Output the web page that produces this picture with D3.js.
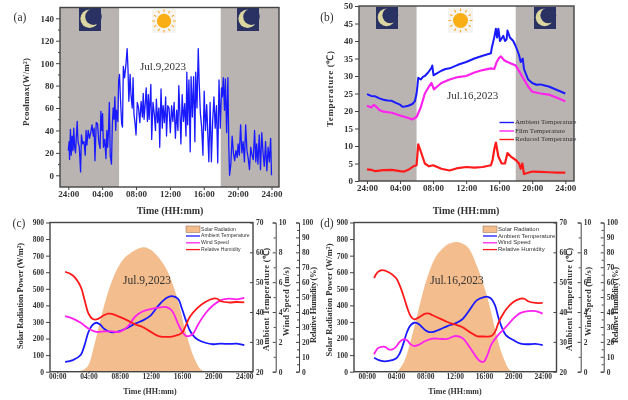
<!DOCTYPE html>
<html>
<head>
<meta charset="utf-8">
<script src="https://cdn.jsdelivr.net/npm/d3@7"></script>
<style>
  html, body { margin: 0; padding: 0; background: #fff; }
  svg { display: block; filter: blur(0.6px); }
  text { font-family: "Liberation Serif", serif; fill: #333; }
  .tick text { font-weight: bold; }
  .lab { font-weight: bold; }
</style>
</head>
<body>
<script>
WIDTH = 628;
HEIGHT = 400;

// panel (a): cooling power
var coolHours = [0,.1,.15,.25,.35,.45,.55,.65,.75,.85,1.05,1.15,1.3,1.45,1.55,1.7,1.85,2,2.1,2.2,2.35,2.5,2.65,2.8,2.95,3.05,3.15,3.3,3.45,3.6,3.75,3.85,3.95,4.05,4.15,4.3,4.45,4.55,4.65,4.75,4.85,4.95,5.1,5.2,5.3,5.4,5.5,5.6,5.7,5.85,5.95,6.05,6.15,6.3,6.4,6.5,6.65,6.8,6.95,7.05,7.15,7.3,7.4,7.55,7.65,7.75,7.9,8,8.15,8.3,8.45,8.6,8.75,8.85,8.95,9.1,9.2,9.35,9.45,9.55,9.75,9.85,10,10.15,10.3,10.4,10.55,10.7,10.8,10.95,11.1,11.2,11.35,11.5,11.6,11.75,11.9,12.05,12.2,12.35,12.5,12.65,12.8,12.95,13.05,13.2,13.3,13.45,13.6,13.75,13.9,14,14.1,14.25,14.4,14.5,14.65,14.8,14.95,15.05,15.2,15.35,15.45,15.6,15.75,15.9,16.05,16.2,16.35,16.5,16.6,16.75,16.9,17.05,17.2,17.35,17.5,17.65,17.8,17.95,18.1,18.2,18.3,18.45,18.55,18.7,18.85,18.95,19.05,19.2,19.35,19.5,19.65,19.8,19.95,20.05,20.2,20.35,20.5,20.65,20.8,20.95,21.1,21.25,21.4,21.55,21.7,21.85,22,22.15,22.25,22.4,22.55,22.7,22.85,23,23.15,23.3,23.45,23.6,23.75,23.9,24];
var coolValues = [22,30,14,41,18,35,22,42,25,20,48,30,25,3,36,28,30,18,40,27,40,33,38,45,35,42,13,47,46,30,24,57,40,55,25,32,15,40,25,40,65,18,10,45,60,50,70,40,58,48,85,90,70,46,43,97,87,98,113,95,66,90,72,60,87,55,45,36,65,60,47,66,52,73,50,65,78,48,72,50,81,32,65,55,40,68,47,60,25,77,42,62,47,70,35,62,60,38,62,48,65,33,58,40,80,52,28,72,48,64,35,92,45,85,21,88,52,88,30,92,60,113,85,55,43,18,75,40,63,32,12,65,12,48,70,42,62,11,85,42,78,70,87,58,86,38,87,28,0,10,35,20,13,22,16,28,18,45,20,30,12,45,22,15,5,25,18,14,40,12,28,10,36,5,38,20,8,30,4,25,12,33,0],

// panel (b): temperatures
    tempHoursAmb = [0,.5,1,1.5,2,2.5,3,3.5,4,4.3,4.6,5,5.5,5.8,6,6.1,6.2,6.5,6.8,7,7.4,7.8,7.9,8.05,8.5,9,9.5,10,11,12,13,14,15,15.1,15.4,15.6,15.75,15.9,16.1,16.5,16.7,16.9,17,17.3,17.7,18,18.4,18.6,18.85,19,19.5,20,20.5,21,21.5,22,23,24],
    tempAmbient = [24.8,24.3,24.2,23.6,23.2,23,22.9,22.3,21.8,21.2,21.3,21.5,22,22.8,25,27,29.5,29,29.8,30,31,32.3,33,30.2,30.8,31.5,32,32.2,33.2,34,35,35.8,36.5,38,41,43.5,41,43.5,40,41.5,40,40.5,43,41,40,38.5,36,34,35,32,29,28,27.5,27.6,27.3,27,26,25],
    tempHoursFilm = [0,.5,.8,1,1.5,2,3,4,5,5.5,6,6.5,7,7.5,7.8,8.1,8.5,9,10,11,12,13,14,15,15.4,15.7,16,16.2,16.6,17,18,18.5,19,19.5,20,21,22,23,24],
    tempFilm = [21.5,21,21.7,21.5,20.3,19.8,19.5,18.7,18,17.6,18.3,21,25,27,28,26.2,27,28,29,29.7,30,31,31.7,32.2,32,34,35.2,35.6,34.5,34,33,31,29,27,25.5,25,24.7,23.8,22.8],
    tempHoursRed = [0,.5,1,2,3,4,4.5,5,5.7,6,6.2,6.5,7,7.5,8,9,10,11,12,13,14,15,15.2,15.4,15.6,15.9,16.3,16.7,17,17.5,18,18.4,18.6,18.8,19,20,21,22,23,24],
    tempReduced = [3.3,3.2,2.8,3.1,3.2,2.8,2.7,3.2,4.3,4.5,10.5,8.5,5,4.2,4.5,3.5,3,3.7,4,3.8,4,4.5,6,9,11,7,5,5,8,6.8,6,5,3.5,5,2,2.7,2.6,2.5,2.4,2.4];

// panels (c) and (d): weather
var solarHoursC = [2.5,3,3.5,4,4.8,5.9,7.2,8.5,9.75,10.5,11.2,12,12.7,14,15.3,16.6,17.6,18.5,19.4],
    solarC = [0,5,15,40,170,380,570,680,727,745,750,735,705,620,460,220,80,10,0],
    solarHoursD = [4.2,5.1,6.2,7.1,8.2,9.5,10.9,11.7,12.4,13.7,15.1,16.5,17.6,18.5,19.4,19.9],
    solarD = [0,60,220,380,560,700,765,780,782,755,630,440,240,100,15,0];

var ambHoursC = [1,2,3,3.5,4,4.5,5,5.5,6,6.5,7,8,9,10,11,12,13,14,14.7,15.5,16,16.5,17,17.5,18,19,20,21,22,23,24],
    ambC = [23.3,23.9,25.6,28.9,33.3,35.6,36.4,35.8,34.4,33.6,33.2,33.6,34.7,36.1,37.2,38.9,42.2,44.7,45.3,44.4,41.1,37.2,33.9,31.9,30.8,29.7,29.2,29.4,29.3,29.4,28.9],
    windHoursC = [1,2,3,4,5,6,7,8,9,10,11,12,13,14,14.7,15.5,16,16.5,17,17.5,18,19,20,21,22,23,24],
    windC = [3.72,3.56,3.28,2.9,2.67,2.7,2.7,2.67,3,3.7,4.05,4.2,4.3,4.33,4.1,3.2,2.7,2.4,2.4,2.6,3.1,3.9,4.45,4.8,4.9,4.85,4.95],
    rhHoursC = [1,2,3,3.5,4,4.5,5,6,6.5,7,8,9,10,11,12,13,14,15,16,16.5,17,18,19,20,20.5,21,22,23,24],
    rhC = [67,64.5,57,48,39,35.5,35,37.8,38.9,38.7,36.7,34.4,31.7,29.8,26.7,23.9,23.3,23.9,26,31,36.7,42.8,46.7,49,48.9,47.2,46.4,46.7,46.4];

var ambHoursD = [1,2,3,4,4.5,5,5.5,6,6.5,7,8,8.5,9,10,11,12,13,14,15,16,16.5,17,17.5,18,18.5,19,20,21,22,23,24],
    ambD = [24.7,23.6,23.6,24.4,26.1,29.4,33.3,35.6,36.4,36.1,33.9,33.3,33.3,34.2,35.3,36.1,37.5,40.6,43.9,45,45.1,44.4,42.2,37.8,34.4,32.2,30.6,29.4,29.2,29.3,28.9],
    windHoursD = [1,1.5,2,2.5,3,3.5,4,4.5,5,5.5,6,6.5,7,8,9,10,11,12,13,14,15,15.5,16,16.5,17,18,19,20,21,22,23,24],
    windD = [1.17,1.56,1.67,1.67,1.5,1.5,1.67,2,2.17,2.11,1.83,1.72,1.78,2.06,2.22,2.2,2.2,2.39,2.28,1.67,.94,.69,.69,1.17,1.83,2.5,3,3.56,3.94,4.06,4.06,3.89],
    rhHoursD = [1,1.5,2,3,4,4.5,5,5.5,6,6.5,7,8,8.5,9,10,11,12,13,14,15,16,17,17.5,18,18.5,19,20,21,21.5,22,23,24],
    rhD = [62.8,66.7,68,66.7,62.8,57.8,51.1,43.3,37.2,35,36.1,38.9,38.9,37.8,35.6,33.3,31.7,30,26.7,23.9,23.6,23.9,26.7,33.3,37.8,41.7,46.7,48.9,48.9,47.2,46.1,46.1];

var hourTicksAB = [0,4,8,12,16,20,24],
    hourLabelsAB = ["24:00","04:00","08:00","12:00","16:00","20:00","24:00"],
    hourLabelsCD = ["00:00","04:00","08:00","12:00","16:00","20:00","24:00"],
    legendB = ["Ambient Temperature","Film Temperature","Reduced Temperature"],
    legendCD = ["Solar Radiation","Ambient Temperature","Wind Speed","Relative Humidity"];

var BLUE = "#1a1aff", MAGENTA = "#ff22ee", RED = "#ff1a1a", NIGHT = "#b9b4b2", SOLAR = "#f4bd8d", FRAME = "#444";

var svg = d3.select("body").append("svg")
    .attr("width", WIDTH)
    .attr("height", HEIGHT);

function txt(x, y, s, size, cls) {
    return svg.append("text")
        .attr("x", x).attr("y", y)
        .attr("text-anchor", "middle")
        .attr("dominant-baseline", "middle")
        .attr("font-size", size)
        .attr("class", cls || null)
        .text(s);
}

function vtxt(x, y, s, size, len) {
    var t = txt(0, 0, s, size, "lab")
        .attr("transform", "translate(" + x + "," + y + ") rotate(-90)");
    if (len) t.attr("textLength", len).attr("lengthAdjust", "spacing");
    return t;
}

function frame(l, t, r, b) {
    svg.append("rect")
        .attr("x", l).attr("y", t)
        .attr("width", r - l).attr("height", b - t)
        .attr("fill", "none")
        .attr("stroke", FRAME)
        .attr("stroke-width", 1.4);
}

function styleAxis(g, size) {
    g.selectAll("path,line").attr("stroke", FRAME).attr("stroke-width", 1);
    g.selectAll("text").attr("font-size", size).attr("fill", "#333");
}

function leftAxis(y, x0, major, minor, size) {
    var m = svg.append("g").attr("transform", "translate(" + x0 + ",0)")
        .call(d3.axisLeft(y).tickValues(minor).tickSize(2).tickFormat(""));
    styleAxis(m, size);
    m.select(".domain").remove();
    var g = svg.append("g").attr("transform", "translate(" + x0 + ",0)")
        .call(d3.axisLeft(y).tickValues(major).tickSize(4).tickPadding(2));
    styleAxis(g, size);
    g.select(".domain").remove();
}

function bottomAxis(x, y0, labels, size, len, pad) {
    var g = svg.append("g").attr("transform", "translate(0," + y0 + ")")
        .call(d3.axisBottom(x).tickValues(hourTicksAB).tickSize(len).tickPadding(pad)
            .tickFormat((d, i) => labels[i]));
    styleAxis(g, size);
    g.select(".domain").remove();
}

function hourLine(x, y, curve) {
    return d3.line().x(d => x(d[0])).y(d => y(d[1])).curve(curve || d3.curveLinear);
}

function drawSeries(hours, vals, x, y, color, width, curve) {
    svg.append("path")
        .datum(d3.zip(hours, vals))
        .attr("fill", "none")
        .attr("stroke", color)
        .attr("stroke-width", width)
        .attr("stroke-linejoin", "round")
        .attr("d", hourLine(x, y, curve));
}

function moon(x, y, w, h) {
    var cx = x + w * 0.48, cy = y + h * 0.47, navy = "#2a3263";
    svg.append("rect").attr("x", x).attr("y", y).attr("width", w).attr("height", h).attr("fill", navy);
    svg.append("circle").attr("cx", cx).attr("cy", cy).attr("r", h * 0.4).attr("fill", "#dcd6a0");
    svg.append("circle").attr("cx", cx + h * 0.17).attr("cy", cy - h * 0.09).attr("r", h * 0.36).attr("fill", navy);
}

function sun(x, y, w, h) {
    svg.append("rect").attr("x", x).attr("y", y).attr("width", w).attr("height", h).attr("fill", "#f6f4f0");
    var cx = x + w / 2, cy = y + h / 2, r = h * 0.3;
    svg.append("g").selectAll("line").data(d3.range(12)).enter().append("line")
        .attr("x1", d => cx + Math.cos(d * Math.PI / 6) * r * 1.25)
        .attr("y1", d => cy + Math.sin(d * Math.PI / 6) * r * 1.25)
        .attr("x2", d => cx + Math.cos(d * Math.PI / 6) * r * 1.6)
        .attr("y2", d => cy + Math.sin(d * Math.PI / 6) * r * 1.6)
        .attr("stroke", "#f7a823").attr("stroke-width", 1.1);
    svg.append("circle").attr("cx", cx).attr("cy", cy).attr("r", r).attr("fill", "#f8ae14");
}

function nightBands(l, t, r, b, x) {
    [[l, x(6)], [x(18), r]].forEach(function(s) {
        svg.append("rect")
            .attr("x", s[0]).attr("y", t)
            .attr("width", s[1] - s[0]).attr("height", b - t)
            .attr("fill", NIGHT);
    });
}

// ---- panel a
(function() {
    var l = 60, t = 7.5, r = 279, b = 187;
    var x = d3.scaleLinear().domain([0, 24]).range([68.3, 271.5]);
    var y = d3.scaleLinear().domain([0, 140]).range([175.3, 18.3]);
    nightBands(l, t, r, b, x);
    moon(79, 8, 22, 23);
    moon(237, 8, 22, 23);
    sun(152, 9, 24, 24);
    drawSeries(coolHours, coolValues, x, y, BLUE, 1.3);
    frame(l, t, r, b);
    leftAxis(y, l, d3.range(0, 141, 20), d3.range(10, 141, 20), 9);
    bottomAxis(x, b, hourLabelsAB, 9, 3, 1);
    txt(163, 67.5, "Jul.9,2023", 11);
    txt(20, 18, "(a)", 11.5);
    vtxt(27, 92, "Pcoolmax(W/m²)", 9, 68);
    txt(170, 212, "Time (HH:mm)", 10, "lab");
})();

// ---- panel b
(function() {
    var l = 359, t = 6, r = 574, b = 181;
    var x = d3.scaleLinear().domain([0, 24]).range([367, 565.3]);
    var y = d3.scaleLinear().domain([0, 50]).range([181, 6]);
    nightBands(l, t, r, b, x);
    moon(376, 7, 22, 22);
    moon(534, 7, 22, 22);
    sun(448, 8, 25, 25);
    drawSeries(tempHoursAmb, tempAmbient, x, y, BLUE, 2);
    drawSeries(tempHoursFilm, tempFilm, x, y, MAGENTA, 2.2);
    drawSeries(tempHoursRed, tempReduced, x, y, RED, 2.2);
    frame(l, t, r, b);
    leftAxis(y, l, d3.range(0, 51, 5), [], 9);
    bottomAxis(x, b, hourLabelsAB, 9, 3, 1);
    txt(472.7, 96, "Jul.16,2023", 11);
    txt(327, 18, "(b)", 11.5);
    vtxt(330.5, 89, "Temperature (℃)", 9, 76);
    txt(466, 212, "Time (HH:mm)", 10, "lab");
    [BLUE, MAGENTA, RED].forEach(function(c, i) {
        var ly = [122.5, 131, 139.5][i];
        svg.append("line").attr("x1", 499.5).attr("x2", 514).attr("y1", ly).attr("y2", ly)
            .attr("stroke", c).attr("stroke-width", 1.4);
        txt(515, ly, legendB[i], 7).attr("text-anchor", "start").attr("fill", "#555");
    });
})();

// ---- panels c, d
function weather(o) {
    var t = 222.5, b = 371.7, l = o.l, r = o.r;
    var x = d3.scaleLinear().domain([0, 24]).range(o.xr);
    var y = d3.scaleLinear().domain([0, 900]).range([b, t]);
    var yT = d3.scaleLinear().domain([20, 70]).range([b, t]);
    var yW = d3.scaleLinear().domain([0, 10]).range([b, t]);
    var yH = d3.scaleLinear().domain([0, 100]).range([b, t]);
    var smooth = d3.curveCatmullRom;

    svg.append("path")
        .datum(d3.zip(o.solarH, o.solar))
        .attr("fill", SOLAR)
        .attr("d", d3.area().x(d => x(d[0])).y0(b).y1(d => y(d[1])).curve(d3.curveCatmullRom));
    drawSeries(o.ambH, o.amb, x, yT, BLUE, 1.8, smooth);
    drawSeries(o.windH, o.wind, x, yW, MAGENTA, 1.8, smooth);
    drawSeries(o.rhH, o.rh, x, yH, RED, 1.8, smooth);
    frame(l, t, r, b);

    leftAxis(y, l, d3.range(0, 901, 100), [], 7.5);
    bottomAxis(x, b, hourLabelsCD, 7.5, 2, 0);

    // temperature axis sits on the frame, labels outside
    var gT = svg.append("g").attr("transform", "translate(" + r + ",0)")
        .call(d3.axisRight(yT).tickValues(d3.range(20, 71, 10)).tickSize(0).tickPadding(3));
    styleAxis(gT, 7.5);
    gT.select(".domain").remove();
    var gT2 = svg.append("g").attr("transform", "translate(" + r + ",0)")
        .call(d3.axisLeft(yT).tickValues(d3.range(20, 71, 10)).tickSize(3).tickFormat(""));
    styleAxis(gT2, 7);
    gT2.select(".domain").remove();

    [[o.wx, yW, d3.range(0, 11, 2), d3.range(1, 10, 2)], [o.hx, yH, d3.range(0, 101, 10), d3.range(5, 100, 10)]].forEach(function(a) {
        var mn = svg.append("g").attr("transform", "translate(" + a[0] + ",0)")
            .call(d3.axisLeft(a[1]).tickValues(a[3]).tickSize(2).tickFormat(""));
        styleAxis(mn, 7);
        mn.select(".domain").remove();
        var g = svg.append("g").attr("transform", "translate(" + a[0] + ",0)")
            .call(d3.axisLeft(a[1]).tickValues(a[2]).tickSizeInner(3).tickSizeOuter(3).tickFormat(""));
        styleAxis(g, 7);
        var lb = svg.append("g").attr("transform", "translate(" + a[0] + ",0)")
            .call(d3.axisRight(a[1]).tickValues(a[2]).tickSize(0).tickPadding(3));
        styleAxis(lb, 7.5);
        lb.select(".domain").remove();
    });

    txt(o.dateX, 281, o.date, 11.5);
    txt(o.letterX, 224, o.letter, 11.5);
    vtxt(o.lx, o.sy, "Solar Radiation Power (W/m²)", 8.5, o.slen);
    vtxt(o.tx, 299.5, "Ambient Temperature (℃)", 8.5, 103);
    vtxt(o.wsx, 301.5, "Wind Speed (m/s)", 8.5, 69);
    vtxt(o.rx, 305, "Relative Humidity (%)", 8.5, 76);
    txt(o.timeX, 392, "Time (HH:mm)", 8, "lab");

    // legend
    var lx = o.legX, ts = o.legSize;
    svg.append("rect").attr("x", lx).attr("y", 226).attr("width", 14).attr("height", 6.5)
        .attr("fill", SOLAR).attr("stroke", "#8a6a50").attr("stroke-width", 0.5);
    txt(lx + 15, 229.3, legendCD[0], ts).attr("text-anchor", "start").style("font-family", "'Liberation Sans', sans-serif").attr("fill", "#555");
    [BLUE, MAGENTA, RED].forEach(function(c, i) {
        var ly = 236 + i * 6.8;
        svg.append("line").attr("x1", lx).attr("x2", lx + 14).attr("y1", ly).attr("y2", ly)
            .attr("stroke", c).attr("stroke-width", 1.3);
        txt(lx + 15, ly, legendCD[i + 1], ts).attr("text-anchor", "start").style("font-family", "'Liberation Sans', sans-serif").attr("fill", "#555");
    });
}

weather({l: 50, r: 253, xr: [57.3, 244.3], wx: 275.7, hx: 299, solarH: solarHoursC, solar: solarC,
    ambH: ambHoursC, amb: ambC, windH: windHoursC, wind: windC, rhH: rhHoursC, rh: rhC,
    date: "Jul.9,2023", dateX: 147, letter: "(c)", letterX: 19, lx: 21, sy: 296, slen: 106, tx: 267, wsx: 287, rx: 314, timeX: 150, legX: 186, legSize: 5.1});
weather({l: 354, r: 556.5, xr: [366.7, 542.7], wx: 580.7, hx: 603.7, solarH: solarHoursD, solar: solarD,
    ambH: ambHoursD, amb: ambD, windH: windHoursD, wind: windD, rhH: rhHoursD, rh: rhD,
    date: "Jul.16,2023", dateX: 457, letter: "(d)", letterX: 327, lx: 330, sy: 300, slen: 113, tx: 570, wsx: 589, rx: 616, timeX: 455, legX: 483, legSize: 6});
</script>
</body>
</html>
